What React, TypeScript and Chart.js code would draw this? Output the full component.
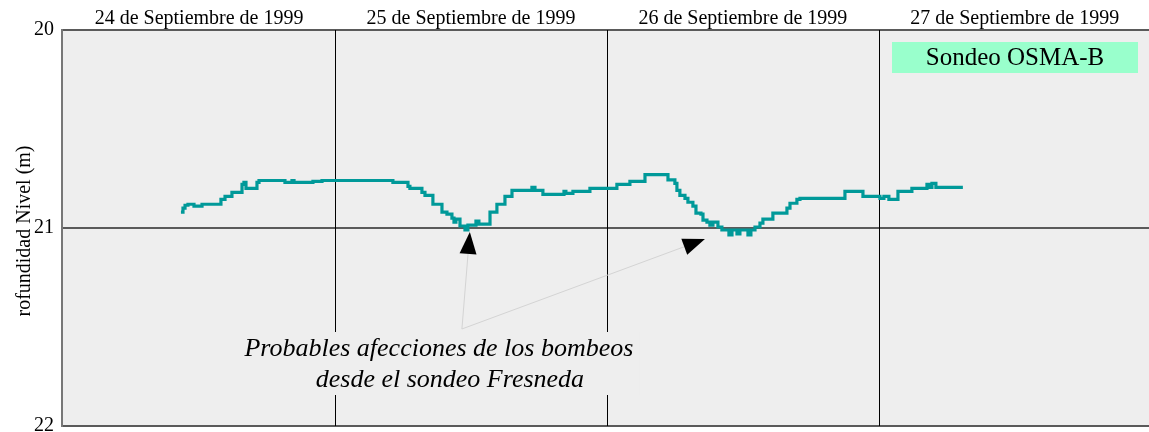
import React, { useEffect, useRef } from "react";
import { Chart, registerables } from "chart.js";

Chart.register(...registerables);

// Time in hours since 24 Sep 1999 00:00
const hours = [
  10.4, 10.58, 10.76, 11.02, 11.55, 12.26, 13.93, 14.29, 14.9, 15.79, 15.96, 16.14, 17.11, 17.29,
  19.58, 20.2, 20.38, 22.05, 22.85, 29.11, 30.44, 30.61, 31.67, 31.94, 32.64, 33.44, 33.88, 34.32,
  34.5, 34.67, 35.03, 35.47, 35.73, 36.44, 36.7, 37.68, 38.29, 39.0, 39.62, 41.38, 41.65, 42.35,
  44.21, 44.38, 45.0, 46.5, 48.88, 50.03, 51.36, 53.39, 54.0, 54.18, 54.44, 54.89, 55.15, 55.59,
  55.86, 56.3, 56.48, 56.83, 57.09, 57.36, 57.8, 58.15, 58.77, 59.04, 59.48, 59.74, 60.45, 60.71,
  61.07, 61.51, 61.77, 62.65, 63.89, 64.16, 64.77, 65.04, 69.01, 70.6, 72.1, 72.45, 72.89, 73.69,
  74.92, 76.25, 76.42, 76.69, 77.04, 79.42,
];
// Depth of water level (m)
const depth = [
  20.92, 20.9, 20.885, 20.88, 20.89, 20.88, 20.855, 20.84, 20.82, 20.78, 20.77, 20.8, 20.77, 20.76,
  20.77, 20.76, 20.77, 20.765, 20.76, 20.77, 20.79, 20.8, 20.82, 20.835, 20.88, 20.92, 20.93, 20.95,
  20.97, 20.955, 20.99, 21.01, 20.985, 20.965, 20.98, 20.92, 20.88, 20.84, 20.81, 20.795, 20.81, 20.83,
  20.815, 20.825, 20.815, 20.8, 20.78, 20.765, 20.73, 20.757, 20.775, 20.81, 20.835, 20.85, 20.87, 20.89,
  20.925, 20.93, 20.96, 20.97, 20.985, 20.97, 20.995, 21.01, 21.035, 21.01, 21.03, 21.01, 21.035, 21.01,
  20.995, 20.975, 20.955, 20.925, 20.9, 20.875, 20.855, 20.85, 20.815, 20.84, 20.85, 20.84, 20.855, 20.815,
  20.8, 20.78, 20.795, 20.775, 20.795, 20.795,
];

const dayLabels = [
  "24 de Septiembre de 1999",
  "25 de Septiembre de 1999",
  "26 de Septiembre de 1999",
  "27 de Septiembre de 1999",
];
const dayBoundaries = [24, 48, 72];
const yTicks = [20, 21, 22];
const yTitle = "rofundidad Nivel (m)";
const seriesName = "Sondeo OSMA-B";
const noteLines = ["Probables afecciones de los bombeos", "desde el sondeo Fresneda"];
// annotation arrows in data units [hour, depth]
const arrowOrigin = [35.2, 21.51];
const arrowTips = [
  [35.9, 21.02],
  [56.65, 21.056],
];

const SERIF = '"Liberation Serif", "Times New Roman", serif';

const overlayPlugin = {
  id: "overlay",
  beforeDraw(chart: any) {
    const { ctx, chartArea: a } = chart;
    ctx.save();
    ctx.fillStyle = "#ffffff";
    ctx.fillRect(0, 0, chart.width, chart.height);
    ctx.fillStyle = "#eeeeee";
    ctx.fillRect(a.left, a.top, a.right - a.left, a.bottom - a.top);
    ctx.restore();
  },
  beforeDatasetsDraw(chart: any) {
    const { ctx, chartArea: a, scales } = chart;
    const xs = scales.x;
    ctx.save();
    ctx.strokeStyle = "#000000";
    ctx.lineWidth = 1;
    dayBoundaries.forEach((h) => {
      const px = Math.round(xs.getPixelForValue(h)) + 0.5;
      ctx.beginPath();
      ctx.moveTo(px, a.top);
      ctx.lineTo(px, a.bottom);
      ctx.stroke();
    });
    // note background box
    ctx.font = `italic 26px ${SERIF}`;
    const w = Math.max(...noteLines.map((t) => ctx.measureText(t).width));
    const cx = xs.getPixelForValue(arrowOrigin[0]) - 21;
    ctx.fillStyle = "#eeeeee";
    ctx.fillRect(cx - w / 2 - 4, 332, w + 8, 63);
    ctx.restore();
  },
  afterDatasetsDraw(chart: any) {
    const { ctx, chartArea: a, scales } = chart;
    const xs = scales.x;
    const ys = scales.y;
    ctx.save();
    // arrows
    const ox = xs.getPixelForValue(arrowOrigin[0]);
    const oy = ys.getPixelForValue(arrowOrigin[1]);
    arrowTips.forEach(([h, d]) => {
      const tx = xs.getPixelForValue(h);
      const ty = ys.getPixelForValue(d);
      const dx = tx - ox;
      const dy = ty - oy;
      const len = Math.hypot(dx, dy);
      const ux = dx / len;
      const uy = dy / len;
      const L = 22;
      const hw = 8.5;
      const bx = tx - ux * L;
      const by = ty - uy * L;
      ctx.strokeStyle = "#d4d4d4";
      ctx.lineWidth = 1;
      ctx.beginPath();
      ctx.moveTo(ox, oy);
      ctx.lineTo(bx, by);
      ctx.stroke();
      ctx.fillStyle = "#000000";
      ctx.beginPath();
      ctx.moveTo(tx, ty);
      ctx.lineTo(bx - uy * hw, by + ux * hw);
      ctx.lineTo(bx + uy * hw, by - ux * hw);
      ctx.closePath();
      ctx.fill();
    });
    // note text
    ctx.fillStyle = "#000000";
    ctx.font = `italic 26px ${SERIF}`;
    ctx.textAlign = "center";
    ctx.textBaseline = "alphabetic";
    ctx.fillText(noteLines[0], ox - 23, 356);
    ctx.fillText(noteLines[1], ox - 12, 387);

    // legend box
    ctx.fillStyle = "#99ffcc";
    const bw = 246;
    const bh = 31;
    const bxr = a.right - 11;
    ctx.fillRect(bxr - bw, a.top + 12, bw, bh);
    ctx.fillStyle = "#000000";
    ctx.font = `25px ${SERIF}`;
    ctx.textBaseline = "middle";
    ctx.fillText(seriesName, bxr - bw / 2, a.top + 12 + bh / 2 + 1);

    // day labels
    ctx.font = `20px ${SERIF}`;
    ctx.textBaseline = "alphabetic";
    dayLabels.forEach((t, i) => {
      ctx.fillText(t, xs.getPixelForValue(12 + 24 * i), 24);
    });

    // y title
    ctx.translate(25, (a.top + a.bottom) / 2 + 3);
    ctx.rotate(-Math.PI / 2);
    ctx.font = `20px ${SERIF}`;
    ctx.textBaseline = "middle";
    ctx.fillText(yTitle, 0, 0);
    ctx.restore();
  },
};

export default function App() {
  const ref = useRef<HTMLCanvasElement | null>(null);
  useEffect(() => {
    document.body.style.margin = "0";
    const canvas = ref.current;
    if (!canvas) return;
    const chart = new Chart(canvas, {
      type: "line",
      data: {
        datasets: [
          {
            label: seriesName,
            data: hours.map((h, i) => ({ x: h, y: depth[i] })),
            borderColor: "#009999",
            borderWidth: 3.2,
            pointRadius: 0,
            stepped: true,
            tension: 0,
            fill: false,
          },
        ],
      },
      options: {
        responsive: false,
        animation: false,
        devicePixelRatio: 1,
        layout: { padding: { top: 30, bottom: 6, left: 0, right: 0 } },
        plugins: {
          legend: { display: false },
          tooltip: { enabled: false },
          title: { display: false },
        },
        scales: {
          x: {
            type: "linear",
            min: -0.1,
            max: 95.85,
            display: false,
          },
          y: {
            type: "linear",
            reverse: true,
            min: yTicks[0],
            max: yTicks[yTicks.length - 1],
            afterBuildTicks: (scale: any) => {
              scale.ticks = yTicks.map((v) => ({ value: v }));
            },
            ticks: {
              color: "#000000",
              padding: 8,
              font: { family: SERIF, size: 20 },
              callback: (v: any) => String(v),
            },
            grid: {
              color: "#5a5a5a",
              lineWidth: 2,
              drawTicks: false,
            },
            border: { display: true, color: "#777777", width: 2 },
            afterFit: (scale: any) => {
              scale.width = 62;
              scale.paddingTop = 0;
              scale.paddingBottom = 0;
            },
          },
        },
      },
      plugins: [overlayPlugin],
    } as any);
    return () => chart.destroy();
  }, []);
  return (
    <div style={{ width: 1149, height: 432 }}>
      <canvas ref={ref} width={1149} height={432} style={{ display: "block" }} />
    </div>
  );
}
